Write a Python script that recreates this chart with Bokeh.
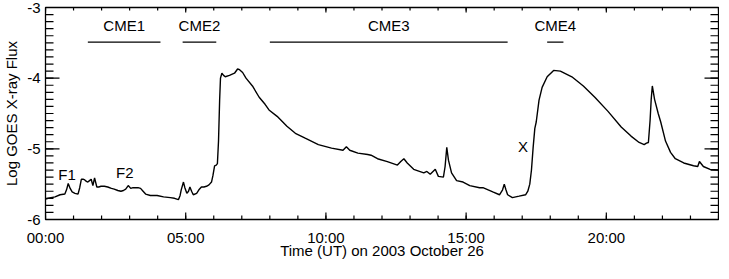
from bokeh.plotting import figure
from bokeh.models import SingleIntervalTicker, Range1d, ColumnDataSource
from bokeh.core.properties import value
from bokeh.embed import file_html
from bokeh.resources import INLINE

# GOES X-ray flux (log10), time in hours UT on 2003 October 26
time_h = [0.00, 0.10, 0.34, 0.52, 0.69, 0.75, 0.81, 0.88, 0.95, 1.05, 1.16, 1.22, 1.28, 1.34, 1.40,
          1.46, 1.51, 1.57, 1.63, 1.69, 1.75, 1.83, 1.90, 1.98, 2.10, 2.22, 2.35, 2.45, 2.58, 2.69,
          2.78, 2.86, 2.95, 3.04, 3.12, 3.21, 3.30, 3.39, 3.48, 3.57, 3.74, 3.98, 4.21, 4.45, 4.60,
          4.74, 4.80, 4.84, 4.92, 4.97, 5.04, 5.10, 5.15, 5.21, 5.27, 5.39, 5.47, 5.56, 5.65, 5.74,
          5.83, 5.92, 5.97, 6.03, 6.09, 6.13, 6.17, 6.21, 6.24, 6.29, 6.35, 6.41, 6.56, 6.74, 6.85,
          6.92, 7.03, 7.15, 7.38, 7.62, 7.83, 7.97, 8.26, 8.61, 8.91, 9.26, 9.73, 10.20, 10.61, 10.73,
          10.85, 11.14, 11.49, 11.61, 11.84, 12.19, 12.55, 12.67, 12.78, 12.90, 13.13, 13.49, 13.60, 13.72, 13.90,
          14.01, 14.19, 14.25, 14.31, 14.37, 14.48, 14.66, 14.89, 15.13, 15.48, 15.60, 15.95, 16.19, 16.30, 16.36,
          16.42, 16.48, 16.65, 16.89, 17.12, 17.20, 17.27, 17.33, 17.39, 17.45, 17.50, 17.60, 17.71, 17.89, 18.12,
          18.36, 18.77, 19.18, 19.59, 20.06, 20.53, 20.88, 21.17, 21.35, 21.43, 21.50, 21.56, 21.60, 21.64, 21.72,
          21.85, 21.94, 22.11, 22.29, 22.46, 22.76, 23.11, 23.26, 23.32, 23.46, 23.70, 24.00]
log_flux = [-5.71, -5.70, -5.68, -5.65, -5.64, -5.58, -5.49, -5.56, -5.61, -5.63, -5.64, -5.55, -5.43, -5.43, -5.44,
            -5.46, -5.47, -5.45, -5.43, -5.52, -5.41, -5.54, -5.54, -5.53, -5.53, -5.54, -5.56, -5.57, -5.59, -5.60,
            -5.59, -5.57, -5.52, -5.56, -5.55, -5.55, -5.55, -5.56, -5.60, -5.64, -5.66, -5.66, -5.68, -5.69, -5.70,
            -5.72, -5.66, -5.58, -5.47, -5.55, -5.63, -5.60, -5.54, -5.60, -5.65, -5.63, -5.58, -5.54, -5.54, -5.53,
            -5.51, -5.47, -5.38, -5.24, -5.23, -5.21, -4.89, -4.31, -4.00, -3.93, -3.96, -3.98, -3.96, -3.93, -3.87,
            -3.88, -3.92, -4.00, -4.11, -4.27, -4.37, -4.45, -4.54, -4.68, -4.78, -4.85, -4.94, -4.99, -5.02, -4.97,
            -5.02, -5.06, -5.08, -5.09, -5.14, -5.18, -5.23, -5.18, -5.14, -5.20, -5.29, -5.34, -5.32, -5.36, -5.29,
            -5.39, -5.40, -5.25, -4.98, -5.16, -5.34, -5.45, -5.47, -5.52, -5.55, -5.55, -5.61, -5.65, -5.58, -5.50,
            -5.58, -5.65, -5.69, -5.67, -5.65, -5.60, -5.50, -5.30, -4.98, -4.71, -4.62, -4.31, -4.13, -3.98, -3.89,
            -3.90, -3.98, -4.11, -4.27, -4.47, -4.69, -4.82, -4.91, -4.94, -4.92, -4.91, -4.60, -4.30, -4.11, -4.30,
            -4.50, -4.62, -4.89, -5.05, -5.14, -5.20, -5.24, -5.25, -5.18, -5.25, -5.29, -5.30]

# CME intervals (hours UT)
cme_names = ["CME1", "CME2", "CME3", "CME4"]
cme_start = [1.51, 4.89, 8.00, 17.89]
cme_end = [4.10, 6.09, 16.48, 18.47]
cme_bar_level = -3.49
cme_label_level = -3.26

# flare labels
flare_names = ["F1", "F2", "X"]
flare_time = [0.77, 2.83, 17.03]
flare_level = [-5.37, -5.33, -4.97]

x_tick_values = [0, 5, 10, 15, 20]
x_tick_labels = ["00:00", "05:00", "10:00", "15:00", "20:00"]
y_tick_values = [-6, -5, -4, -3]
y_tick_labels = ["-6", "-5", "-4", "-3"]

FONT = "Liberation Sans"
FS = "15px"
X0, X1, Y0, Y1 = 0, 24, -6, -3
FW, FH = 673, 212  # frame size in pixels

p = figure(frame_width=FW, frame_height=FH, x_range=Range1d(X0, X1), y_range=Range1d(Y0, Y1),
           output_backend="svg", toolbar_location=None,
           min_border_left=39, min_border_right=1, min_border_top=7, min_border_bottom=0)
p.grid.visible = False
p.outline_line_color = "black"
p.outline_line_width = 1.3
p.background_fill_color = "white"
p.border_fill_color = "white"

for ax in (p.xaxis[0], p.yaxis[0]):
    ax.major_tick_in = 0
    ax.major_tick_out = 0
    ax.minor_tick_in = 0
    ax.minor_tick_out = 0
    ax.axis_line_color = "black"
    ax.major_label_text_font = FONT
    ax.major_label_text_font_size = FS
    ax.major_label_text_color = "black"
    ax.axis_label_text_font = FONT
    ax.axis_label_text_font_size = FS
    ax.axis_label_text_font_style = "normal"
    ax.axis_label_text_color = "black"

xa = p.xaxis[0]
xa.ticker = SingleIntervalTicker(interval=5, num_minor_ticks=5)
xa.major_label_overrides = dict(zip(x_tick_values, x_tick_labels))
xa.major_label_standoff = 9
xa.axis_label = "Time (UT) on 2003 October 26"
xa.axis_label_standoff = -7

ya = p.yaxis[0]
ya.ticker = SingleIntervalTicker(interval=1, num_minor_ticks=10)
ya.major_label_overrides = dict(zip(y_tick_values, y_tick_labels))
ya.major_label_standoff = 5
ya.axis_label = "Log GOES X-ray Flux"
ya.axis_label_standoff = 4

# inward tick marks on all four sides, drawn as segments; pixel lengths converted to data units
px_x = (X1 - X0) / FW
px_y = (Y1 - Y0) / FH
x_minor = [h for h in range(X0, X1 + 1)]
y_minor = [round(Y0 + i * 0.1, 1) for i in range(int(round((Y1 - Y0) / 0.1)) + 1)]


def xticks(xs, edge, length, direction):
    return dict(x0=xs, x1=xs, y0=[edge] * len(xs), y1=[edge + direction * length * px_y] * len(xs))


def yticks(ys, edge, length, direction):
    return dict(y0=ys, y1=ys, x0=[edge] * len(ys), x1=[edge + direction * length * px_x] * len(ys))


for d in (xticks(x_minor, Y0, 4, 1), xticks(x_tick_values, Y0, 7, 1),
          xticks(x_minor, Y1, 3, -1), xticks(x_tick_values, Y1, 5, -1),
          yticks(y_minor, X0, 8, 1), yticks(y_tick_values, X0, 14, 1),
          yticks(y_minor, X1, 8, -1), yticks(y_tick_values, X1, 14, -1)):
    p.segment(source=ColumnDataSource(d), x0="x0", y0="y0", x1="x1", y1="y1",
              line_color="black", line_width=1.2)

src = ColumnDataSource(dict(t=time_h, f=log_flux))
p.line("t", "f", source=src, line_color="black", line_width=1.4)

cme_src = ColumnDataSource(dict(x0=cme_start, x1=cme_end,
                                xm=[(a + b) / 2 for a, b in zip(cme_start, cme_end)],
                                yb=[cme_bar_level] * len(cme_names),
                                yl=[cme_label_level] * len(cme_names),
                                name=cme_names))
p.segment(x0="x0", y0="yb", x1="x1", y1="yb", source=cme_src, line_color="black", line_width=1.2)
p.text(x="xm", y="yl", text="name", source=cme_src, text_font=value(FONT), text_font_size=FS,
       text_align="center", text_baseline="middle", text_color="black")

fl_src = ColumnDataSource(dict(x=flare_time, y=flare_level, name=flare_names))
p.text(x="x", y="y", text="name", source=fl_src, text_font=value(FONT), text_font_size=FS,
       text_align="center", text_baseline="middle", text_color="black")

open("out.html", "w").write(file_html(p, INLINE))
